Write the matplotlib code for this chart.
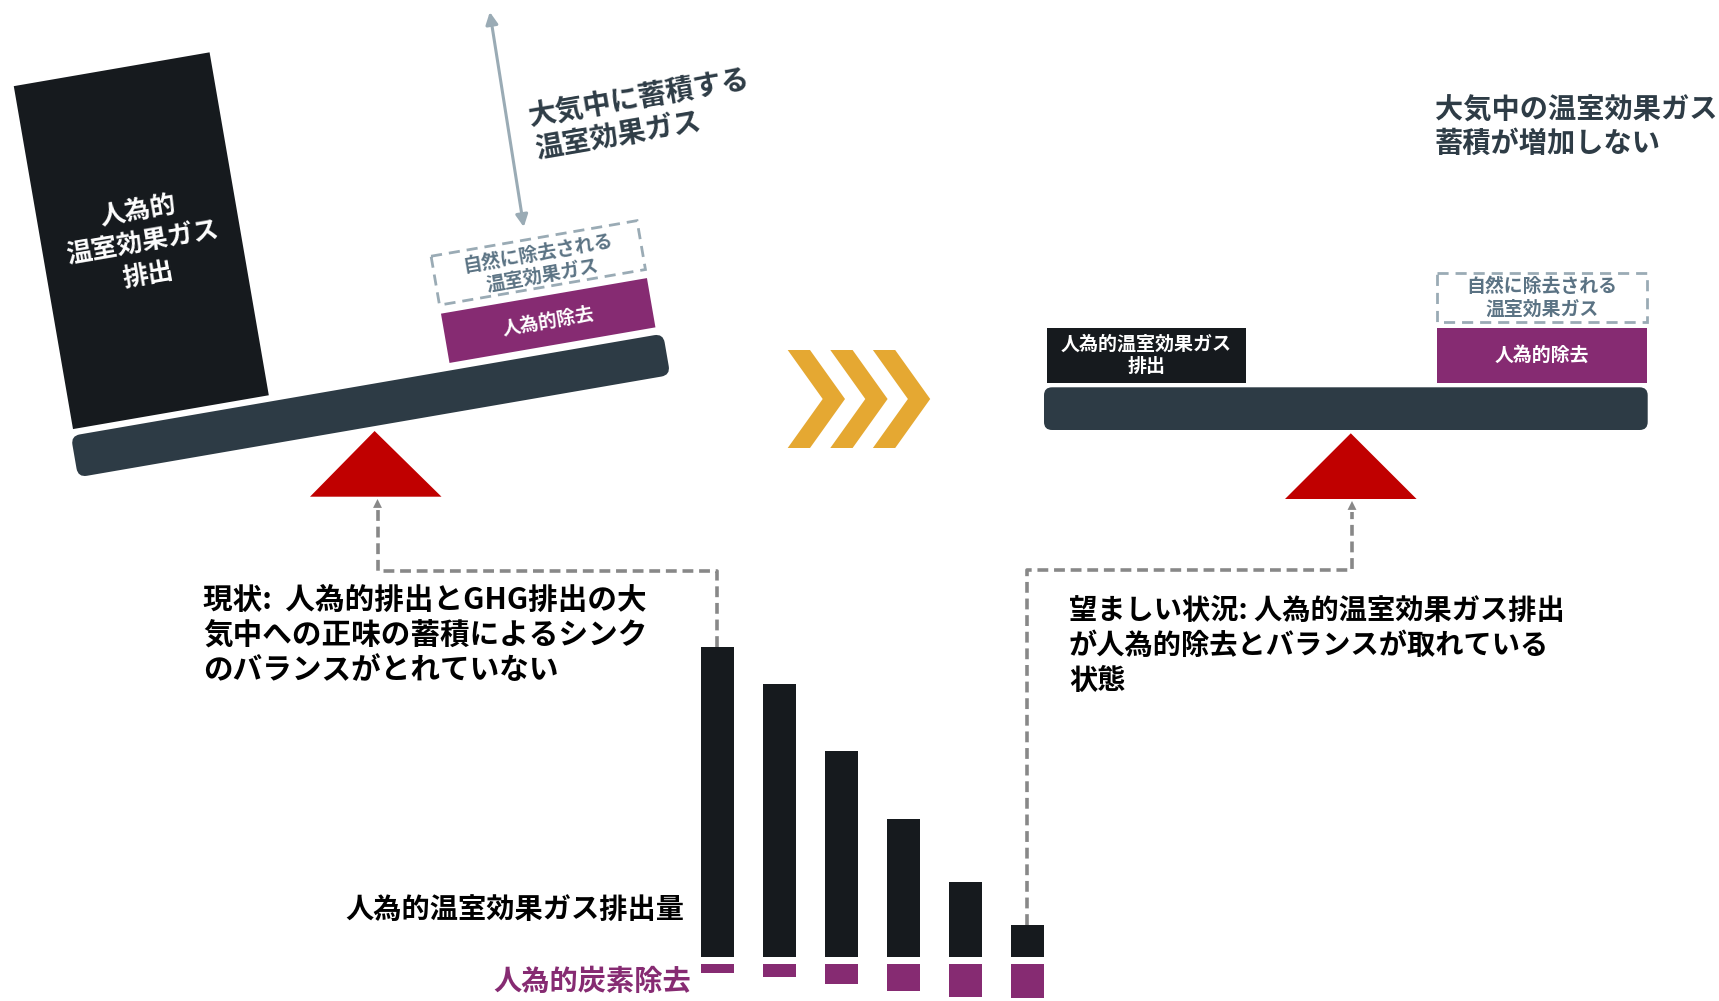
import matplotlib
matplotlib.use("Agg")
import matplotlib.pyplot as plt
from matplotlib.patches import Rectangle, FancyBboxPatch, Polygon
from matplotlib.transforms import Affine2D

plt.rcParams['font.family'] = ['Noto Sans CJK JP', 'DejaVu Sans']

# ---------------- data ----------------
emissions = [310, 273, 206, 138, 75, 32]      # anthropogenic GHG emissions (relative)
removals = [9, 13.5, 20, 27, 33, 34]          # anthropogenic carbon removal (relative)
label_emis = "人為的温室効果ガス排出量"
label_remv = "人為的炭素除去"
txt_now = "現状:  人為的排出とGHG排出の大\n気中への正味の蓄積によるシンク\nのバランスがとれていない"
txt_goal = "望ましい状況: 人為的温室効果ガス排出\nが人為的除去とバランスが取れている\n状態"
txt_left_block = "人為的\n温室効果ガス\n排出"
txt_natural = "自然に除去される\n温室効果ガス"
txt_removal = "人為的除去"
txt_accum = "大気中に蓄積する\n温室効果ガス"
txt_right_block = "人為的温室効果ガス\n排出"
txt_no_increase = "大気中の温室効果ガス\n蓄積が増加しない"

# ---------------- colours ----------------
C_BLACK = "#161a1e"
C_PURPLE = "#862b72"
C_BEAM = "#2d3b45"
C_RED = "#c00000"
C_GOLD = "#e5a832"
C_GRAY = "#888888"
C_STEEL = "#9aabb5"
C_STEEL_TXT = "#5b7384"
C_SLATE = "#2e3c46"

W, H = 1719, 1001
fig = plt.figure(figsize=(W / 100, H / 100), dpi=100)
ax = fig.add_axes([0, 0, 1, 1])
ax.set_xlim(0, W)
ax.set_ylim(H, 0)
ax.axis('off')

# ---------------- left tilted balance ----------------
piv = (370.45, 405.0)
tilt = -9.8
rot = Affine2D().rotate_deg_around(piv[0], piv[1], tilt) + ax.transData

ax.add_patch(FancyBboxPatch((70, 384.5), 601, 42, boxstyle="round,pad=0,rounding_size=9",
                            fc=C_BEAM, ec='none', transform=rot))
ax.add_patch(Rectangle((73.25, 30.1), 198.7, 348, fc=C_BLACK, ec='none', transform=rot))
ax.add_patch(Rectangle((455.5, 327.0), 209, 50, fc=C_PURPLE, ec='none', transform=rot))
ax.add_patch(Rectangle((455.5, 268.7), 209, 49.6, fc='none', ec=C_STEEL, lw=2,
                       ls=(0, (4, 2.5)), transform=rot))

ax.text(143, 243, txt_left_block, color='white', fontsize=18.5, fontweight='bold',
        ha='center', va='center', multialignment='center', rotation=-tilt,
        rotation_mode='anchor', linespacing=1.25)
ax.text(540, 265, txt_natural, color=C_STEEL_TXT, fontsize=13.7, fontweight='bold',
        ha='center', va='center', multialignment='center', rotation=-tilt,
        rotation_mode='anchor', linespacing=1.25)
ax.text(548.5, 321.5, txt_removal, color='white', fontsize=13.4, fontweight='bold',
        ha='center', va='center', rotation=-tilt, rotation_mode='anchor')
ax.text(532, 134, txt_accum, color=C_SLATE, fontsize=20.2, fontweight='bold',
        ha='left', va='center', multialignment='left', rotation=-tilt,
        rotation_mode='anchor', linespacing=1.25)

ax.annotate("", xy=(489.8, 12), xytext=(523.8, 227),
            arrowprops=dict(arrowstyle='<|-|>', color=C_STEEL, lw=2.2,
                            mutation_scale=18, shrinkA=0, shrinkB=0))

ax.add_patch(Polygon([(374.6, 431), (310, 496.7), (441.5, 496.7)], closed=True,
                     fc=C_RED, ec='none'))

# ---------------- chevrons ----------------
chev = [(0, 0), (22.3, 0), (57.3, 49), (22.3, 98), (0, 98), (35, 49)]
for k in range(3):
    x0 = 787.7 + 42.6 * k
    ax.add_patch(Polygon([(x0 + px, 350 + py) for px, py in chev], closed=True,
                         fc=C_GOLD, ec='none'))

# ---------------- right balanced scale ----------------
ax.add_patch(FancyBboxPatch((1044, 387.3), 603.7, 42.7, boxstyle="round,pad=0,rounding_size=8",
                            fc=C_BEAM, ec='none'))
ax.add_patch(Rectangle((1046.8, 328), 199.4, 54.7, fc=C_BLACK, ec='none'))
ax.add_patch(Rectangle((1436.8, 328), 210.4, 54.7, fc=C_PURPLE, ec='none'))
ax.add_patch(Rectangle((1436.8, 272.7), 210.4, 49.6, fc='none', ec=C_STEEL, lw=2,
                       ls=(0, (4, 2.5))))
ax.text(1146.5, 355.5, txt_right_block, color='white', fontsize=13.7, fontweight='bold',
        ha='center', va='center', multialignment='center', linespacing=1.25)
ax.text(1542, 355.5, txt_removal, color='white', fontsize=13.6, fontweight='bold',
        ha='center', va='center')
ax.text(1542, 297.5, txt_natural, color=C_STEEL_TXT, fontsize=13.6, fontweight='bold',
        ha='center', va='center', multialignment='center', linespacing=1.25)
ax.text(1435, 127, txt_no_increase, color=C_SLATE, fontsize=20.3, fontweight='bold',
        ha='left', va='center', multialignment='left', linespacing=1.25)
ax.add_patch(Polygon([(1350.8, 433.3), (1285, 499), (1416.6, 499)], closed=True,
                     fc=C_RED, ec='none'))

# ---------------- bar chart ----------------
base = 957
gap = 6.5
xs = [717 + 62 * i for i in range(len(emissions))]
ax.bar(xs, [-e for e in emissions], bottom=base, width=33, color=C_BLACK)
ax.bar(xs, removals, bottom=base + gap, width=33, color=C_PURPLE)
ax.text(684, 910, label_emis, color='black', fontsize=20.3, fontweight='bold',
        ha='right', va='center')
ax.text(691, 982, label_remv, color=C_PURPLE, fontsize=20.3, fontweight='bold',
        ha='right', va='center')

# ---------------- dashed connectors ----------------
dash = dict(color=C_GRAY, lw=2.6, ls=(0, (3, 1.6)))
ytop1 = base - emissions[0]
ax.plot([xs[0], xs[0], 377.5, 377.5], [ytop1, 571, 571, 510], **dash)
ax.annotate("", xy=(377.5, 499), xytext=(377.5, 512),
            arrowprops=dict(arrowstyle='-|>', color=C_GRAY, lw=0, mutation_scale=16,
                            shrinkA=0, shrinkB=0))
ytop6 = base - emissions[-1]
ax.plot([xs[-1], xs[-1], 1352, 1352], [ytop6, 570, 570, 512], **dash)
ax.annotate("", xy=(1352, 501), xytext=(1352, 514),
            arrowprops=dict(arrowstyle='-|>', color=C_GRAY, lw=0, mutation_scale=16,
                            shrinkA=0, shrinkB=0))

ax.text(203, 635, txt_now, color='black', fontsize=21.3, fontweight='bold',
        ha='left', va='center', multialignment='left', linespacing=1.2)
ax.text(1069, 646, txt_goal, color='black', fontsize=20.3, fontweight='bold',
        ha='left', va='center', multialignment='left', linespacing=1.3)

fig.savefig("out.png", dpi=100, facecolor='white')
